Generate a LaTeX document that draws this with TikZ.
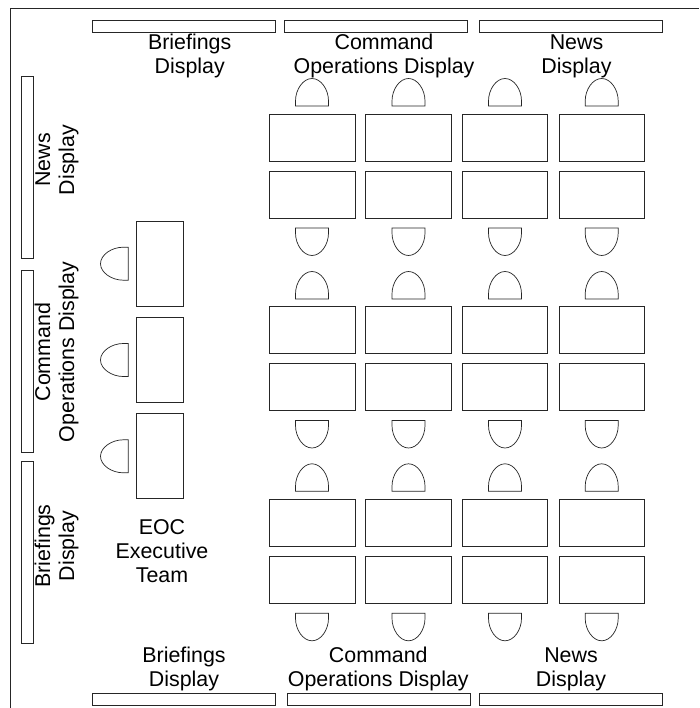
\documentclass[tikz,border=0pt]{standalone}
\usepackage{fontspec}
\setmainfont{Liberation Sans}
\newcommand{\lst}{\rule[-5pt]{0pt}{21pt}}
\tikzset{
  plan/.style={draw=black!85,line width=0.7pt,line join=miter},
  lbl/.style={font=\fontsize{21.4}{24}\selectfont,align=center,inner sep=0pt,text=black},
  vlbl/.style={lbl,rotate=90},
  chairU/.pic={\draw[plan] (-16.5,0) -- (-16.5,-5) .. controls (-16.5,-16.5) and (-9,-27.5) .. (0,-27.5) .. controls (9,-27.5) and (16.5,-16.5) .. (16.5,-5) -- (16.5,0) -- cycle;},
  chairD/.pic={\draw[plan] (-16.5,0) -- (-16.5,5) .. controls (-16.5,16.5) and (-9,27.5) .. (0,27.5) .. controls (9,27.5) and (16.5,16.5) .. (16.5,5) -- (16.5,0) -- cycle;},
  chairL/.pic={\draw[plan] (0,-16.5) -- (-5,-16.5) .. controls (-16.5,-16.5) and (-27.8,-9) .. (-27.8,0) .. controls (-27.8,9) and (-16.5,16.5) .. (-5,16.5) -- (0,16.5) -- cycle;}
}
\begin{document}
\begin{tikzpicture}[x=1pt,y=-1pt]
\useasboundingbox (0,0) rectangle (699,708);
\fill[white] (0,0) rectangle (699,708);
% room outline
\draw[plan] (10.8,708) -- (10.8,8.3) -- (699,8.3);
% wall displays
\foreach \a/\b in {92/275,284.5/467,479/662}
  \draw[plan] (\a,20.5) rectangle (\b,32.5);
\foreach \a/\b in {92/275,287.5/470.5,479/662}
  \draw[plan] (\a,693.3) rectangle (\b,705);
\foreach \a/\b in {76/258.3,270/452.3,461.3/643.7}
  \draw[plan] (21.5,\a) rectangle (33,\b);
% staff desks
\foreach \a/\b in {269/355,365.5/451.5,462.5/547.7,559/644.7}
  \foreach \c/\d in {114/161,171/218,306.5/353,363.5/410.7,499.7/546,556.5/603.5}
    \draw[plan] (\a,\c) rectangle (\b,\d);
% staff chairs
\foreach \x in {312,408.5,505,601.7} {
  \foreach \y in {106,299,491.3} \pic at (\x,\y) {chairU};
  \foreach \y in {228,420.5,613.3} \pic at (\x,\y) {chairD};
}
% executive desks and chairs
\foreach \c/\d in {221/306,317.5/402.3,413.7/498.7}
  \draw[plan] (136.3,\c) rectangle (183.5,\d);
\foreach \y in {263.7,360,456.3} \pic at (128.3,\y) {chairL};
% labels
\node[lbl] (t1) at (189.7,56.5) {\lst Briefings\\\lst Display};
\node[lbl] (t2) at (384,56.5) {\lst Command\\\lst Operations Display};
\node[lbl] (t3) at (576.5,56.5) {\lst News\\\lst Display};
\node[lbl] (b1) at (184,669) {\lst Briefings\\\lst Display};
\node[lbl] (b2) at (378.3,669) {\lst Command\\\lst Operations Display};
\node[lbl] (b3) at (571,669) {\lst News\\\lst Display};
\node[lbl] (eoc) at (162,552.8) {\lst EOC\\\lst Executive\\\lst Team};
\node[vlbl] (l1) at (56.5,160) {\lst News\\\lst Display};
\node[vlbl] (l2) at (56.5,352) {\lst Command\\\lst Operations Display};
\node[vlbl] (l3) at (56.5,546) {\lst Briefings\\\lst Display};
\end{tikzpicture}
\end{document}
